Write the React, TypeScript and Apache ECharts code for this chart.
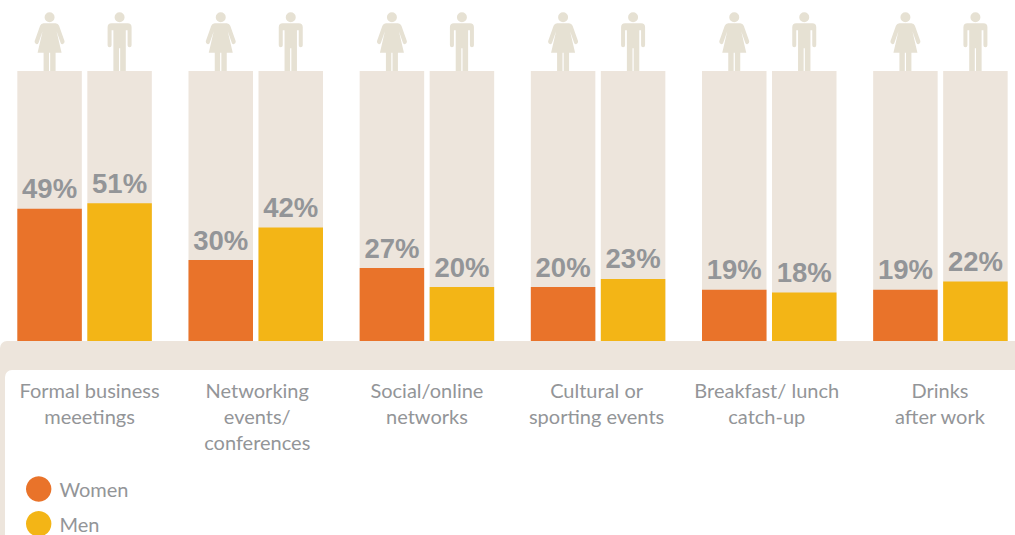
import React, { useEffect, useRef } from "react";
import * as echarts from "echarts";

const categories = [
  "Formal business\nmeeetings",
  "Networking\nevents/\nconferences",
  "Social/online\nnetworks",
  "Cultural or\nsporting events",
  "Breakfast/ lunch\ncatch-up",
  "Drinks\nafter work",
];
const women = [49, 30, 27, 20, 19, 19];
const men = [51, 42, 20, 23, 18, 22];
const labelShift = [5, 1.5, 0, -1.5, -2.5, -0.5];

const ORANGE = "#E9732A";
const YELLOW = "#F3B516";
const PANEL = "#EDE5DC";
const ICON = "#E6E1D3";
const GREY = "#939598";
const TEXT_FONT = 'Lato, "Liberation Sans", sans-serif';

const HEAD = "M -5 5 A 5 5 0 1 1 5 5 A 5 5 0 1 1 -5 5 Z ";
const WOMAN =
  HEAD +
  "M -6 11 L 6 11 Q 8.5 11 9.5 13.5 L 15 29 Q 15.2 31.5 13 32 Q 11.5 32 11 30.5 L 7 19 L 12 40.5 L 6 40.5 L 6 59 L 0.6 59 L 0.6 40.5 L -0.6 40.5 L -0.6 59 L -6 59 L -6 40.5 L -12 40.5 L -7 19 L -11 30.5 Q -11.5 32 -13 32 Q -15.2 31.5 -15 29 L -9.5 13.5 Q -8.5 11 -6 11 Z";
const MAN =
  HEAD +
  "M -8 11 L 8 11 Q 12 11 12 15 L 12 33 Q 12 35 10 35 Q 8 35 8 33 L 8 18 L 6.2 18 L 6.2 59 L 0.6 59 L 0.6 36 L -0.6 36 L -0.6 59 L -6.2 59 L -6.2 18 L -8 18 L -8 33 Q -8 35 -10 35 Q -12 35 -12 33 L -12 15 Q -12 11 -8 11 Z";

echarts.graphic.registerShape("woman", echarts.graphic.extendPath(WOMAN, {}) as any);
echarts.graphic.registerShape("man", echarts.graphic.extendPath(MAN, {}) as any);

const BAR_W = 64.5;
const BAR_GAP = 5.5;

export default function App() {
  const ref = useRef<HTMLDivElement>(null);
  useEffect(() => {
    document.body.style.margin = "0";
    const chart = echarts.init(ref.current!, undefined, { renderer: "svg" });
    const rich: Record<string, any> = {};
    labelShift.forEach((s, i) => {
      rich["c" + i] = {
        fontFamily: TEXT_FONT,
        fontSize: 20,
        lineHeight: 26,
        color: GREY,
        padding: s >= 0 ? [0, 0, 0, 2 * s] : [0, -2 * s, 0, 0],
      };
    });
    const barLabel = {
      show: true,
      position: "top" as const,
      distance: 6,
      formatter: "{c}%",
      fontFamily: '"Liberation Sans", Arial, sans-serif',
      fontWeight: "bold" as const,
      fontSize: 27.5,
      color: GREY,
    };
    const background = { showBackground: true, backgroundStyle: { color: PANEL } };
    chart.setOption({
      animation: false,
      grid: { left: -1, top: 71, width: 1027, height: 270, containLabel: false, outerBoundsMode: "none" },
      legend: {
        left: 26,
        top: 476.3,
        height: 120,
        padding: 0,
        orient: "vertical",
        icon: "circle",
        itemWidth: 25.4,
        itemHeight: 25.4,
        itemGap: 9.4,
        textStyle: { fontFamily: TEXT_FONT, fontSize: 20, color: GREY, padding: [0, 0, 0, 3] },
      },
      xAxis: {
        type: "category",
        data: categories,
        axisLine: { show: false },
        axisTick: { show: false },
        axisLabel: {
          interval: 0,
          margin: 36,
          hideOverlap: false,
          formatter: (v: string) => {
            const i = categories.indexOf(v);
            return v.split("\n").map((l) => `{c${i}|${l}}`).join("\n");
          },
          rich,
        },
      },
      yAxis: { type: "value", min: 0, max: 100, show: false },
      series: [
        {
          name: "Women",
          type: "bar",
          data: women,
          barWidth: BAR_W,
          barGap: `${(BAR_GAP / BAR_W) * 100}%`,
          itemStyle: { color: ORANGE },
          label: barLabel,
          ...background,
        },
        {
          name: "Men",
          type: "bar",
          data: men,
          barWidth: BAR_W,
          itemStyle: { color: YELLOW },
          label: barLabel,
          ...background,
        },
      ],
    });

    const offset = (BAR_W + BAR_GAP) / 2;
    const figures: any[] = [];
    categories.forEach((c) => {
      const cx = chart.convertToPixel({ xAxisIndex: 0 }, c) as number;
      figures.push({ type: "woman", x: cx - offset, y: 12.3, silent: true, style: { fill: ICON } });
      figures.push({ type: "man", x: cx + offset, y: 12.3, silent: true, style: { fill: ICON } });
    });
    chart.setOption({
      graphic: [
        {
          type: "rect",
          z: -10,
          silent: true,
          shape: { x: 0, y: 341, width: 1015, height: 194, r: [7, 0, 0, 0] },
          style: { fill: PANEL },
        },
        {
          type: "rect",
          z: -9,
          silent: true,
          shape: { x: 5, y: 370, width: 1010, height: 165, r: [7, 0, 0, 0] },
          style: { fill: "#FFFFFF" },
        },
        ...figures,
      ],
    });
    return () => chart.dispose();
  }, []);
  return <div ref={ref} style={{ position: "absolute", left: 0, top: 0, width: 1015, height: 535 }} />;
}
